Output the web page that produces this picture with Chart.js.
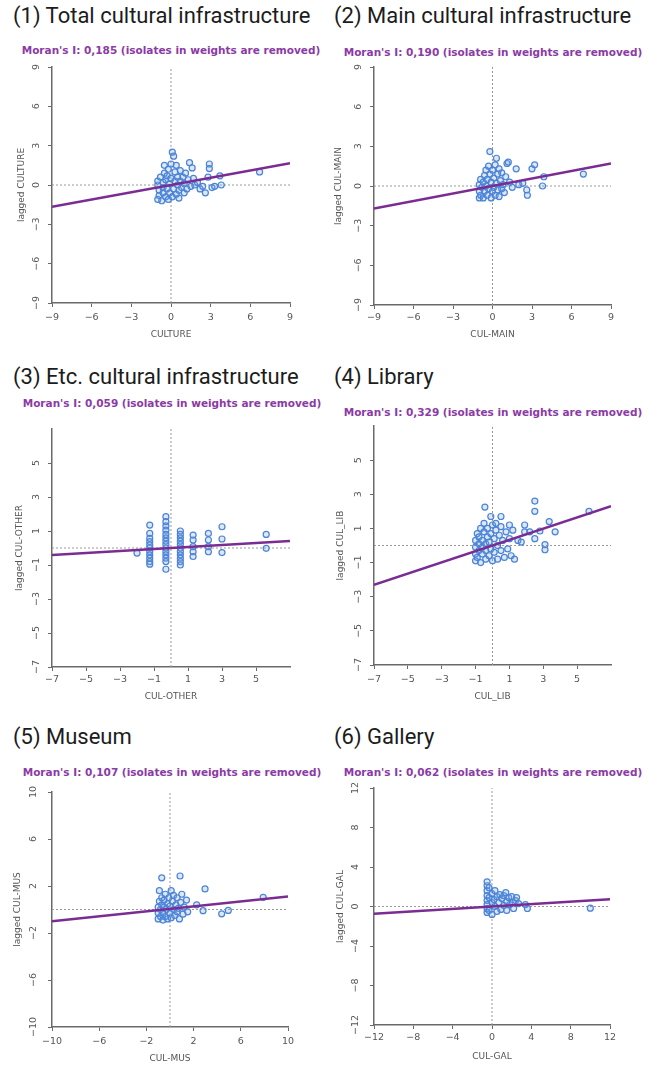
<!DOCTYPE html>
<html lang="en">
<head>
<meta charset="UTF-8">
<title>Moran scatter plots</title>
<script src="https://cdn.jsdelivr.net/npm/chart.js@4.4.0/dist/chart.umd.min.js"></script>
<style>
    body { margin: 0; background: #fff; }
    #page { position: relative; width: 653px; height: 1066px; overflow: hidden; }
    .head {
        position: absolute;
        font-family: Roboto, sans-serif;
        font-size: 22px;
        line-height: 26px;
        color: #1c1c1c;
        white-space: nowrap;
    }
    .moran {
        position: absolute;
        font-family: "DejaVu Sans", sans-serif;
        font-weight: bold;
        font-size: 10.5px;
        line-height: 12px;
        color: #8b3aa6;
        white-space: nowrap;
        transform: translateX(-50%);
    }
    canvas { position: absolute; }
</style>
</head>
<body>
<div id="page"></div>
<script>
// tick values
const ticks9 = [-9, -6, -3, 0, 3, 6, 9];
const ticks7 = [-7, -5, -3, -1, 1, 3, 5];
const ticks10 = [-10, -6, -2, 2, 6, 10];
const ticks12 = [-12, -8, -4, 0, 4, 8, 12];

// (1) total cultural infrastructure
const culturePts = [[-1.0,-1.1],[-0.9,-0.8],[-0.9,-0.4],[-1.0,0.0],[-1.0,0.3],[-0.8,0.6],[-0.7,-1.2],[-0.6,-0.6],[-0.6,-0.2],[-0.6,0.2],
    [-0.5,0.9],[-0.5,1.5],[-0.4,-0.9],[-0.4,0.4],[-0.3,-0.3],[-0.3,0.7],[-0.2,1.2],[-0.2,-1.1],[-0.1,0.1],[-0.1,-0.6],
    [0.0,0.5],[0.0,1.6],[0.1,2.5],[0.2,2.2],[0.1,-0.9],[0.2,-0.3],[0.3,0.3],[0.3,1.0],[0.4,1.5],[0.4,-0.7],
    [0.5,0.0],[0.5,0.6],[0.6,-1.0],[0.6,-0.4],[0.7,0.3],[0.7,1.1],[0.8,-0.2],[0.9,0.6],[1.0,-0.6],[1.0,0.1],
    [1.1,0.9],[1.2,-0.3],[1.3,0.4],[1.4,1.7],[1.5,-0.1],[1.6,1.3],[1.7,0.5],[1.8,0.0],[2.0,0.2],[2.2,-0.3],
    [2.4,-0.1],[2.6,-0.6],[2.8,0.6],[2.9,1.6],[2.9,1.25],[3.1,-0.2],[3.3,-0.1],[3.7,0.7],[3.8,0.0],[6.7,1.0]];
const cultureFit = [[-9,-1.67],[9,1.67]];

// (2) main cultural infrastructure
const mainPts = [[-1.0,-0.9],[-1.0,-0.4],[-1.0,0.1],[-0.9,0.5],[-0.9,-0.7],[-0.8,-0.1],[-0.7,0.3],[-0.7,-0.9],[-0.6,0.8],[-0.6,-0.4],
    [-0.5,1.2],[-0.5,0.0],[-0.4,-0.7],[-0.4,0.5],[-0.3,1.5],[-0.3,-0.2],[-0.2,2.6],[-0.2,0.9],[-0.1,-0.9],[-0.1,0.3],
    [0.0,-0.4],[0.0,1.2],[0.1,0.6],[0.1,-0.1],[0.2,1.6],[0.2,-0.7],[0.3,2.1],[0.3,0.2],[0.4,-0.3],[0.4,0.9],
    [0.5,1.3],[0.5,-0.8],[0.6,0.4],[0.7,-0.2],[0.7,1.0],[0.8,0.1],[0.9,-0.5],[1.0,0.7],[1.1,1.7],[1.2,1.8],
    [1.3,0.3],[1.5,-0.1],[1.8,1.3],[2.0,0.1],[2.3,0.2],[2.6,-0.3],[2.65,-0.7],[3.0,1.3],[3.2,1.6],[3.9,0.7],
    [3.8,0.0],[6.9,0.9]];
const mainFit = [[-9,-1.71],[9,1.71]];

// (3) etc. cultural infrastructure
const otherPts = [[-2.0,-0.3],
    [-1.25,1.35],[-1.25,0.86],[-1.25,0.57],[-1.25,0.38],[-1.25,0.18],[-1.25,0.0],[-1.25,-0.2],[-1.25,-0.4],[-1.25,-0.6],[-1.25,-0.8],[-1.25,-0.95],
    [-0.3,1.84],[-0.3,1.55],[-0.3,1.3],[-0.3,1.05],[-0.3,0.8],[-0.3,0.6],[-0.3,0.4],[-0.3,0.2],[-0.3,0.0],[-0.3,-0.2],[-0.3,-0.4],[-0.3,-0.6],[-0.3,-0.8],[-0.3,-1.25],
    [0.55,1.0],[0.55,0.8],[0.55,0.6],[0.55,0.4],[0.55,0.2],[0.55,0.0],[0.55,-0.2],[0.55,-0.4],[0.55,-0.6],[0.55,-0.8],[0.55,-1.0],
    [1.3,0.76],[1.3,0.47],[1.3,0.08],[1.3,-0.22],[1.3,-0.5],
    [2.2,0.86],[2.2,0.47],[2.2,0.08],[2.2,-0.22],
    [3.0,1.25],[3.0,0.53],[3.0,-0.27],
    [5.6,0.8],[5.6,-0.02]];
const otherFit = [[-7,-0.41],[7,0.41]];

// (4) library
const libPts = [[-1.0,-0.9],[-1.0,-0.5],[-1.0,-0.1],[-1.0,0.3],[-0.9,0.7],[-0.9,-0.7],[-0.8,-0.3],[-0.8,0.1],[-0.8,0.5],[-0.7,1.0],
    [-0.7,-1.0],[-0.6,-0.5],[-0.6,-0.1],[-0.6,0.3],[-0.5,0.8],[-0.5,1.3],[-0.45,2.25],[-0.4,-0.8],[-0.4,-0.3],[-0.4,0.1],
    [-0.3,0.5],[-0.3,1.0],[-0.2,-0.6],[-0.2,0.2],[-0.1,0.7],[-0.1,1.7],[-0.1,-0.2],[0.0,1.2],[0.0,-0.9],[0.1,0.4],
    [0.1,-0.4],[0.2,0.9],[0.2,1.3],[0.3,0.0],[0.3,-0.8],[0.4,0.6],[0.5,1.7],[0.5,1.1],[0.5,-0.3],[0.6,0.3],
    [0.7,-0.7],[0.8,0.8],[0.9,-0.2],[1.0,1.2],[1.0,0.4],[1.1,-0.6],[1.2,0.9],[1.3,-0.8],[1.5,0.3],[1.7,0.2],
    [1.9,1.2],[1.9,0.8],[2.2,0.8],[2.5,2.6],[2.5,2.0],[2.5,0.4],[2.8,0.85],[3.1,0.05],[3.1,-0.25],[3.35,1.4],
    [3.7,0.8],[5.7,2.0]];
const libFit = [[-7,-2.3],[7,2.3]];

// (5) museum
const musPts = [[-1.0,-0.8],[-1.0,-0.3],[-1.0,0.2],[-0.9,0.7],[-0.9,1.6],[-0.8,-0.6],[-0.8,0.0],[-0.7,0.4],[-0.7,1.0],[-0.7,2.7],
    [-0.6,-0.9],[-0.6,-0.3],[-0.5,0.2],[-0.5,0.8],[-0.4,1.3],[-0.4,-0.6],[-0.3,0.0],[-0.2,0.5],[-0.2,-0.8],[-0.1,1.0],
    [0.0,-0.3],[0.0,0.3],[0.1,1.6],[0.1,-0.7],[0.2,0.7],[0.3,0.0],[0.3,1.2],[0.4,-0.5],[0.5,0.4],[0.6,1.0],
    [0.6,-0.2],[0.7,0.1],[0.8,-0.8],[0.85,2.85],[0.9,0.6],[1.0,1.3],[1.1,-0.4],[1.2,0.2],[1.4,0.8],[1.5,-0.2],
    [2.26,0.4],[2.8,-0.1],[2.97,1.75],[4.38,-0.37],[4.94,-0.08],[7.9,1.04]];
const musFit = [[-10,-1.0],[10,1.1]];

// (6) gallery
const galPts = [[-0.5,2.5],[-0.5,2.1],[-0.5,1.6],[-0.5,1.1],[-0.5,0.6],[-0.5,0.2],[-0.5,-0.2],[-0.5,-0.6],[-0.3,1.9],[-0.3,0.9],
    [-0.3,-0.4],[0.0,1.3],[0.0,0.4],[0.0,-0.8],[0.2,0.7],[0.3,1.6],[0.3,0.0],[0.5,1.0],[0.5,-0.5],[0.7,0.4],
    [0.8,1.2],[0.9,-0.3],[1.0,0.8],[1.2,1.1],[1.2,0.1],[1.4,1.4],[1.5,0.5],[1.5,-0.4],[1.7,0.9],[1.8,0.2],
    [2.0,1.0],[2.1,0.4],[2.2,-0.2],[2.4,0.6],[2.5,0.9],[2.7,0.3],[3.4,0.2],[3.6,-0.2],[10.0,-0.17]];
const galFit = [[-12,-0.74],[12,0.74]];

const panels = [
    { title: '(1) Total cultural infrastructure', moran: "Moran's I: 0,185 (isolates in weights are removed)",
      xLabel: 'CULTURE', yLabel: 'lagged CULTURE', pts: culturePts, fit: cultureFit, ticks: ticks9, lim: 9,
      cx: 0, cw: 326, titleX: 13, titleY: 16, moranX: 171, moranY: 50,
      plot: { l: 52, r: 290, t: 67, b: 303 }, xTickY: 318, xTitleY: 335, yTitleX: 22 },
    { title: '(2) Main cultural infrastructure', moran: "Moran's I: 0,190 (isolates in weights are removed)",
      xLabel: 'CUL-MAIN', yLabel: 'lagged CUL-MAIN', pts: mainPts, fit: mainFit, ticks: ticks9, lim: 9,
      cx: 326, cw: 327, titleX: 334, titleY: 16, moranX: 493, moranY: 52,
      plot: { l: 374, r: 611, t: 67, b: 305 }, xTickY: 318, xTitleY: 335, yTitleX: 339 },
    { title: '(3) Etc. cultural infrastructure', moran: "Moran's I: 0,059 (isolates in weights are removed)",
      xLabel: 'CUL-OTHER', yLabel: 'lagged CUL-OTHER', pts: otherPts, fit: otherFit, ticks: ticks7, lim: 7,
      cx: 0, cw: 326, titleX: 13, titleY: 377, moranX: 172, moranY: 403,
      plot: { l: 52, r: 290, t: 429, b: 667 }, xTickY: 680, xTitleY: 697, yTitleX: 20 },
    { title: '(4) Library', moran: "Moran's I: 0,329 (isolates in weights are removed)",
      xLabel: 'CUL_LIB', yLabel: 'lagged CUL_LIB', pts: libPts, fit: libFit, ticks: ticks7, lim: 7,
      cx: 326, cw: 327, titleX: 334, titleY: 377, moranX: 493, moranY: 412,
      plot: { l: 374, r: 611, t: 426, b: 665 }, xTickY: 680, xTitleY: 697, yTitleX: 341 },
    { title: '(5) Museum', moran: "Moran's I: 0,107 (isolates in weights are removed)",
      xLabel: 'CUL-MUS', yLabel: 'lagged CUL-MUS', pts: musPts, fit: musFit, ticks: ticks10, lim: 10,
      cx: 0, cw: 326, titleX: 13, titleY: 737, moranX: 172, moranY: 772,
      plot: { l: 52, r: 288, t: 792, b: 1027 }, xTickY: 1042, xTitleY: 1059, yTitleX: 18 },
    { title: '(6) Gallery', moran: "Moran's I: 0,062 (isolates in weights are removed)",
      xLabel: 'CUL-GAL', yLabel: 'lagged CUL-GAL', pts: galPts, fit: galFit, ticks: ticks12, lim: 12,
      cx: 326, cw: 327, titleX: 334, titleY: 737, moranX: 493, moranY: 772,
      plot: { l: 374, r: 610, t: 788, b: 1025 }, xTickY: 1038, xTitleY: 1057, yTitleX: 341 }
];

const page = document.getElementById('page');
const tickFont = { family: 'DejaVu Sans', size: 9.5 };
const titleFont = { family: 'DejaVu Sans', size: 9 };
const grey = '#6a6a6a';
const fmt = v => String(v).replace('-', '\u2212');
const toXY = arr => arr.map(p => ({ x: p[0], y: p[1] }));

function makePanel(p) {
    const head = document.createElement('div');
    head.className = 'head';
    head.textContent = p.title;
    head.style.left = p.titleX + 'px';
    head.style.top = (p.titleY - 13) + 'px';
    page.appendChild(head);

    const moran = document.createElement('div');
    moran.className = 'moran';
    moran.textContent = p.moran;
    moran.style.left = p.moranX + 'px';
    moran.style.top = (p.moranY - 6) + 'px';
    page.appendChild(moran);

    const top = p.plot.t - 20;
    const bottom = p.xTitleY + 8;
    const cv = document.createElement('canvas');
    cv.width = p.cw;
    cv.height = bottom - top;
    cv.style.left = p.cx + 'px';
    cv.style.top = top + 'px';
    page.appendChild(cv);

    const lim = p.lim;
    new Chart(cv, {
        type: 'scatter',
        data: {
            datasets: [{
                type: 'line',
                data: toXY(p.fit),
                borderColor: '#7a2c93',
                borderWidth: 2.5,
                pointRadius: 0,
                order: 0
            }, {
                data: toXY(p.pts),
                pointRadius: 3,
                pointBorderWidth: 1.2,
                borderColor: '#4a84d8',
                backgroundColor: 'rgba(120,160,225,0.25)',
                order: 1
            }, {
                type: 'line',
                data: [{ x: 0, y: -lim }, { x: 0, y: lim }],
                borderColor: '#999',
                borderWidth: 1,
                borderDash: [2, 2],
                pointRadius: 0,
                order: 2
            }, {
                type: 'line',
                data: [{ x: -lim, y: 0 }, { x: lim, y: 0 }],
                borderColor: '#999',
                borderWidth: 1,
                borderDash: [2, 2],
                pointRadius: 0,
                order: 2
            }]
        },
        options: {
            responsive: false,
            animation: false,
            events: [],
            layout: { padding: { top: 20, left: 0, bottom: 0, right: p.cx + p.cw - p.plot.r } },
            plugins: { legend: { display: false }, tooltip: { enabled: false } },
            scales: {
                x: {
                    type: 'linear', min: -lim, max: lim,
                    afterBuildTicks: s => { s.ticks = p.ticks.map(v => ({ value: v })); },
                    afterFit: s => { s.height = bottom - p.plot.b; },
                    ticks: { font: tickFont, color: '#555', padding: p.xTickY - p.plot.b - 9.7,
                             autoSkip: false, maxRotation: 0, callback: fmt },
                    grid: { drawOnChartArea: false, tickLength: 4, color: grey },
                    border: { color: grey, width: 1.5 },
                    title: { display: true, text: p.xLabel, font: titleFont, color: '#555',
                             padding: { top: 0, bottom: 2.6 } }
                },
                y: {
                    type: 'linear', min: -lim, max: lim,
                    afterBuildTicks: s => { s.ticks = p.ticks.map(v => ({ value: v })); },
                    afterFit: s => { s.width = p.plot.l - p.cx; },
                    ticks: { font: tickFont, color: '#555', padding: 4, autoSkip: false,
                             minRotation: 90, maxRotation: 90, crossAlign: 'center', callback: fmt },
                    grid: { drawOnChartArea: false, tickLength: 4, color: grey },
                    border: { color: grey, width: 1.5 },
                    title: { display: true, text: p.yLabel, font: titleFont, color: '#555',
                             padding: { top: p.yTitleX - p.cx - 5.4, bottom: 0 } }
                }
            }
        }
    });
}

panels.forEach(makePanel);
</script>
</body>
</html>
